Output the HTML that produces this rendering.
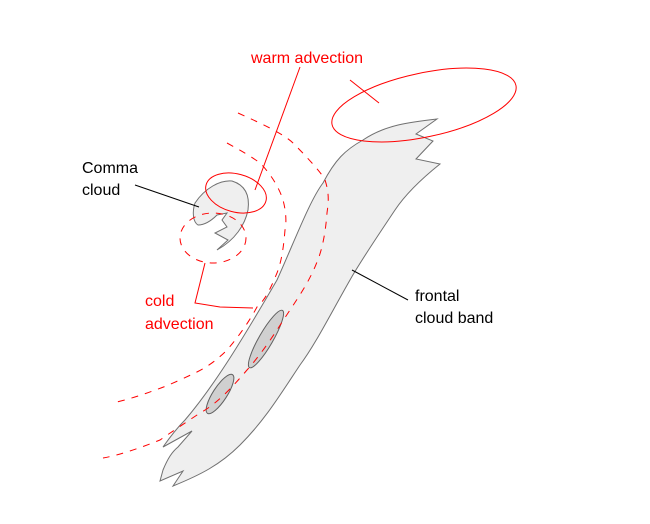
<!DOCTYPE html>
<html><head><meta charset="utf-8"><style>
html,body{margin:0;padding:0;background:#fff;}
svg{display:block;}
text{font-family:"Liberation Sans",Arial,sans-serif;font-size:16px;}
</style></head><body>
<svg width="650" height="524" viewBox="0 0 650 524" xmlns="http://www.w3.org/2000/svg">
<!-- frontal band -->
<path d="M363,140 C385,125 410,122 437,119 L416,134 L433,141 L416,159 L440,164 C420,180 405,195 395,210 C375,240 360,262 350,280 C330,315 315,345 300,365 C280,395 265,420 240,445 C220,465 200,475 173,486 L183,471 L160,481 L163,470 C168,458 172,452 178,447 L192,431 L163,447 C170,437 178,427 185,420 C215,385 245,335 277,280 C295,240 310,200 323,183 C335,160 345,150 363,140 Z" fill="#efefef" stroke="#707070" stroke-width="1"/>
<!-- dark ellipses -->
<ellipse cx="266" cy="339" rx="33" ry="7" transform="rotate(-60 266 339)" fill="#d0d0d0" stroke="#606060"/>
<ellipse cx="220" cy="394" rx="23" ry="7" transform="rotate(-57 220 394)" fill="#d0d0d0" stroke="#606060"/>
<!-- comma cloud -->
<path d="M195,203 C205,188 220,180 232,181 C245,185 250,195 248,210 C245,225 235,240 217,250 L228,240 L215,233 L227,227 L222,220 L227,213 L217,215 C212,220 205,225 198,225 C193,222 192,212 195,203 Z" fill="#efefef" stroke="#707070"/>
<!-- red ellipses -->
<ellipse cx="236" cy="193" rx="31" ry="19" transform="rotate(15 236 193)" fill="none" stroke="#f00"/>
<ellipse cx="424" cy="105" rx="94" ry="32" transform="rotate(-12 424 105)" fill="none" stroke="#f00"/>
<!-- dashed arcs -->
<g fill="none" stroke="#f00" stroke-dasharray="7,7">
<path d="M238,113 C265,125 285,135 293,143 C310,160 323,175 325,180 C330,195 328,205 327,213 C325,240 320,255 317,262 C310,280 300,295 290,310 C280,325 265,350 247,370 C230,390 215,405 200,413 C185,423 170,433 160,440 C140,448 120,455 103,458"/>
<path d="M227,143 C240,150 252,157 260,163 C272,175 280,190 283,200 C287,215 286,225 285,230 C283,255 280,265 277,273 C270,290 265,300 257,307 C250,320 240,335 227,350 C215,362 205,368 195,373 C180,380 165,387 155,390 C140,396 125,400 113,403"/>
<ellipse cx="213" cy="238" rx="33" ry="25"/>
</g>
<!-- label lines -->
<g fill="none" stroke="#f00" stroke-width="1">
<line x1="300" y1="67" x2="255" y2="190"/>
<line x1="350" y1="80" x2="379" y2="103"/>
<polyline points="205,263 195,303 220,307 253,308"/>
</g>
<g stroke="#000" stroke-width="1">
<line x1="135" y1="185" x2="199" y2="207"/>
<line x1="352" y1="270" x2="408" y2="300"/>
</g>
<!-- text -->
<text x="251" y="63" fill="#f00">warm advection</text>
<text x="82" y="173" fill="#000">Comma</text>
<text x="82" y="195" fill="#000">cloud</text>
<text x="145" y="306" fill="#f00">cold</text>
<text x="145" y="329" fill="#f00">advection</text>
<text x="415" y="301" fill="#000">frontal</text>
<text x="415" y="323" fill="#000">cloud band</text>
</svg>
</body></html>
